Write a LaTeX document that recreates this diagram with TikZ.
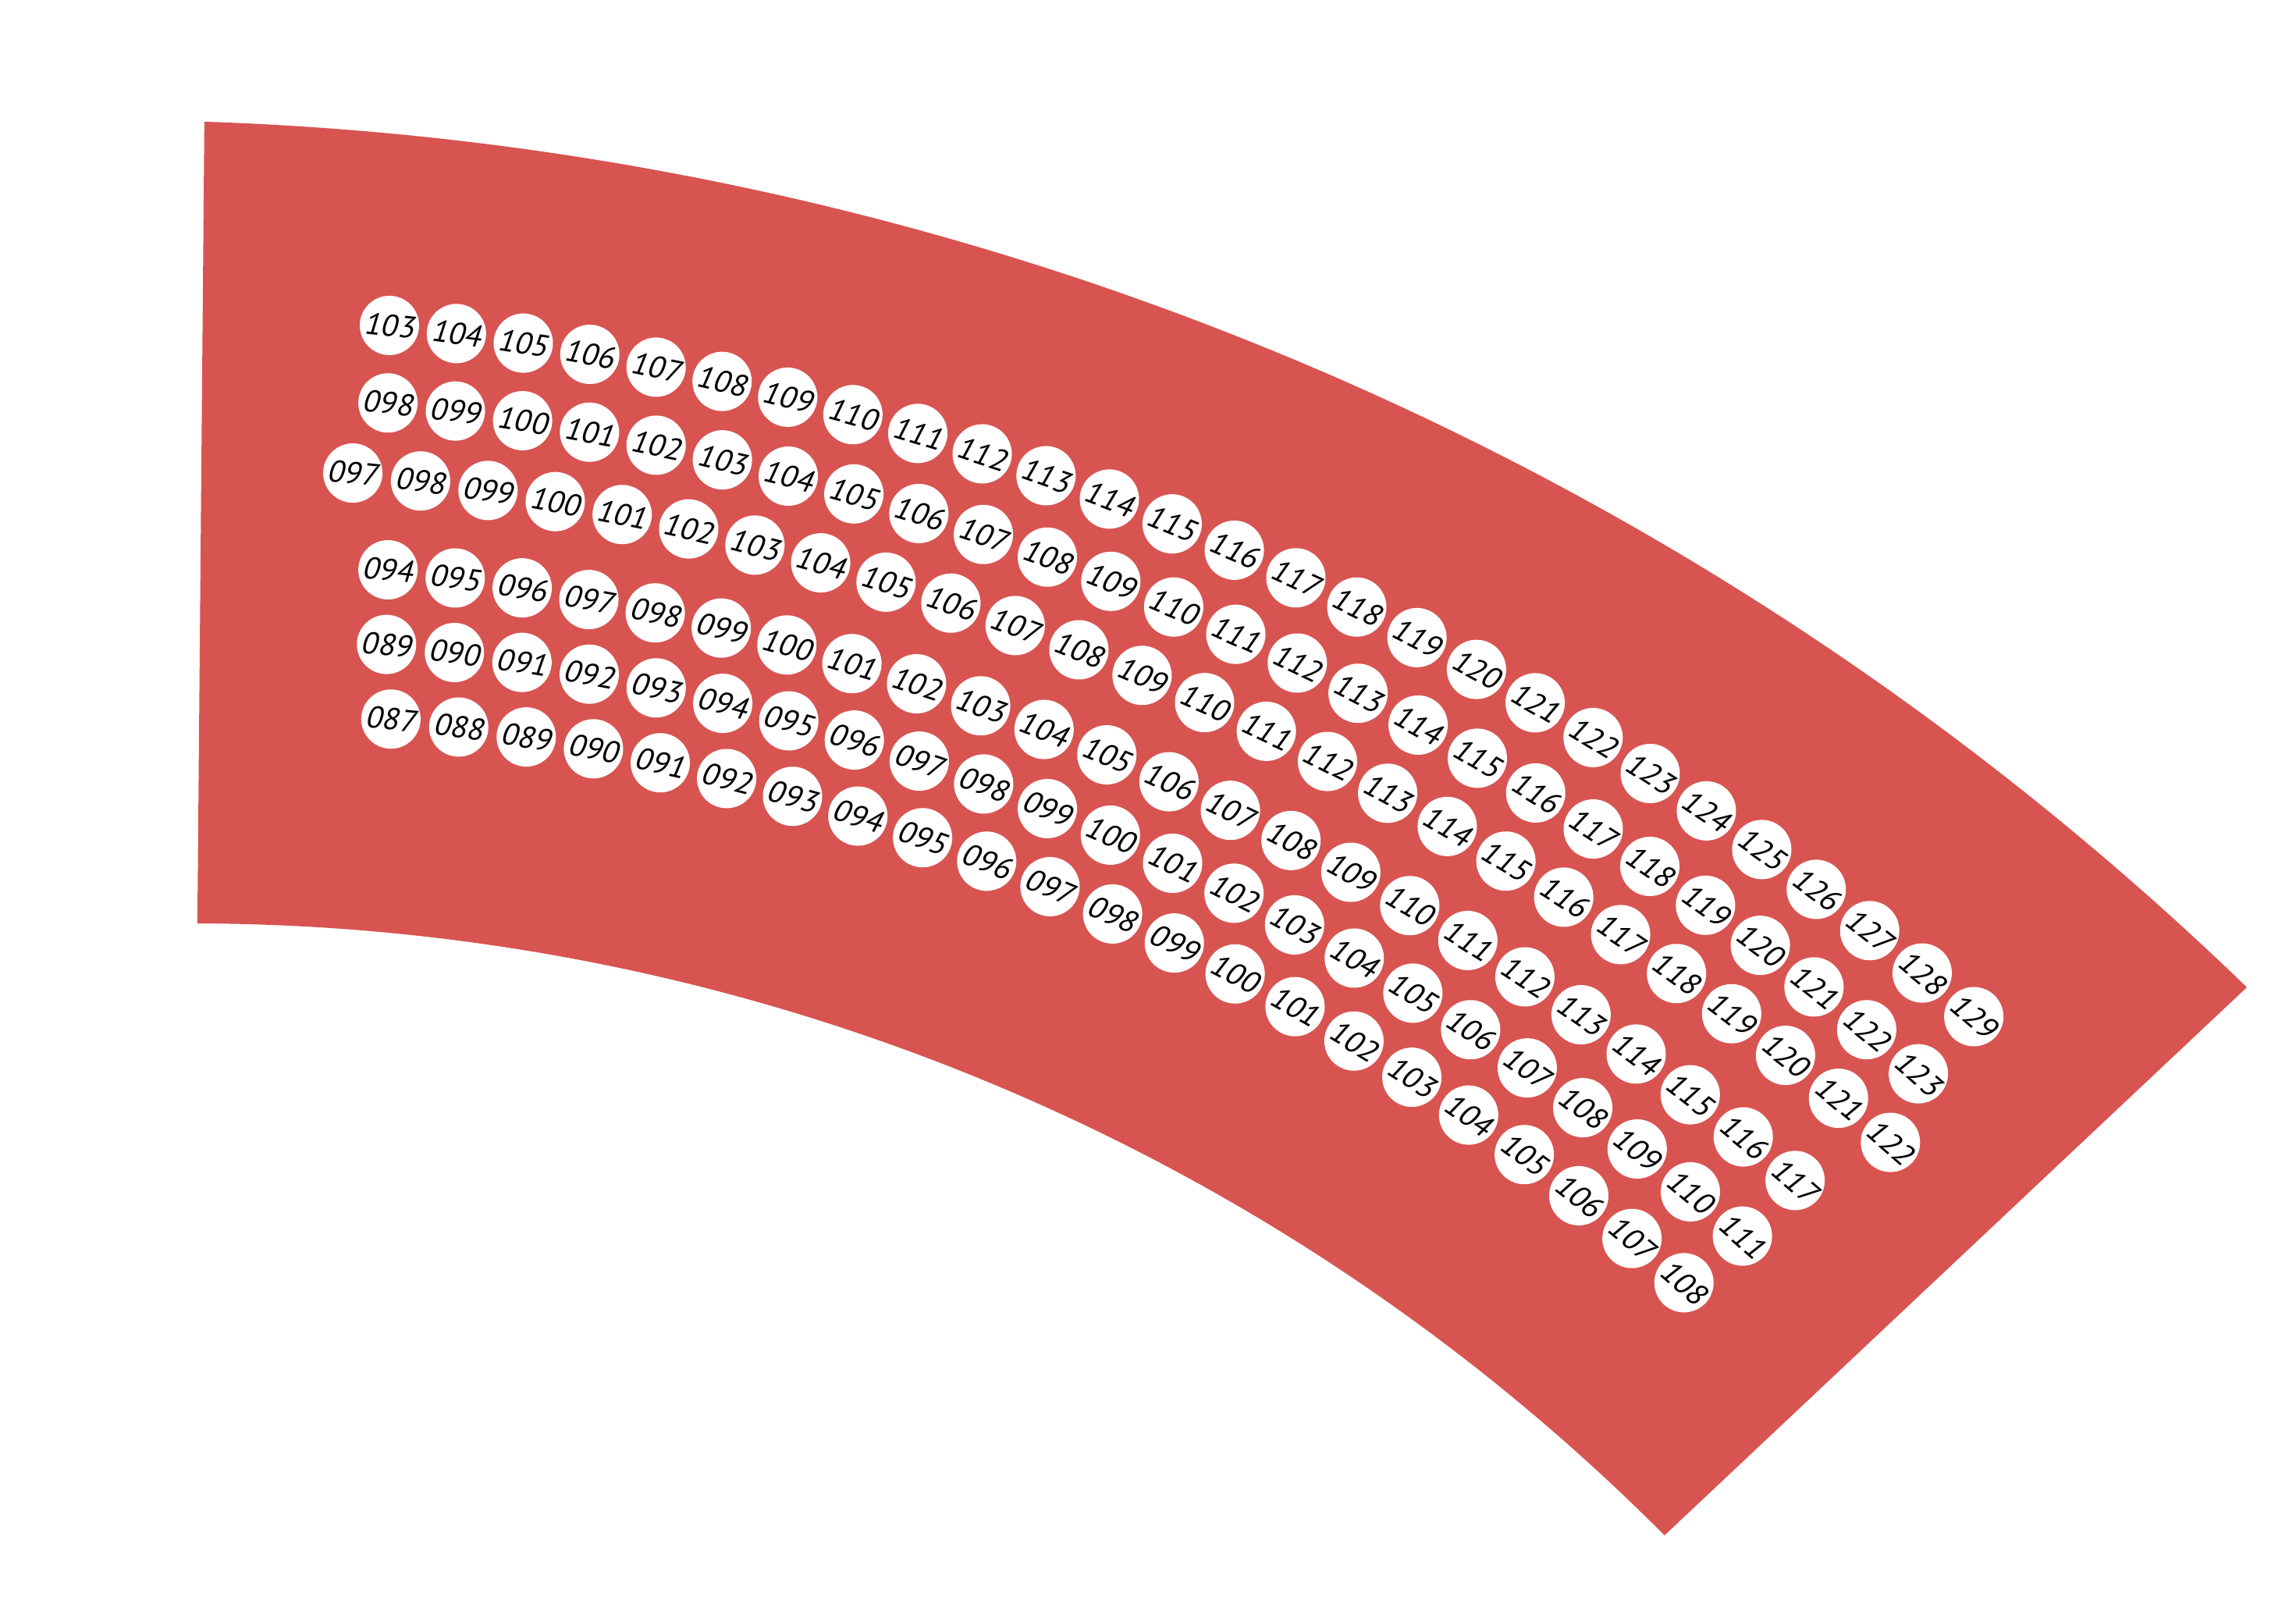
\documentclass[tikz,border=0pt]{standalone}
\usepackage{fontspec}
\newfontfamily\seatfont[FakeSlant=0.18]{PT Sans}
\definecolor{bandred}{RGB}{216,84,81}
\tikzset{
  seat/.style={circle, fill=white, minimum size=40.5pt, inner sep=0pt, text=black,
    font=\seatfont\fontsize{21}{21}\selectfont},
  band/.style={fill=bandred}
}
% #1 name prefix, #2 cx, #3 cy, #4 radius, #5 start angle, #6 angle step, #7 first number, #8 count-1
\newcommand\seatrow[8]{%
  \foreach \i in {0,...,#8}{%
    \pgfmathsetmacro\ang{#5-\i*#6}%
    \pgfmathsetmacro\px{#2+#4*cos(\ang)}%
    \pgfmathsetmacro\py{#3+#4*sin(\ang)}%
    \pgfmathsetmacro\rot{\ang-90}%
    \pgfmathtruncatemacro\num{#7+\i}%
    \node[seat, rotate=\rot] (#1\num) at (\px,\py) {\ifnum\num<100 0\fi\num};
  }%
}
\begin{document}
\begin{tikzpicture}[x=1pt,y=1pt]
\useasboundingbox (0,0) rectangle (1568,1095.25);
\coordinate (oc) at (70.1,-1093.25);
\coordinate (ic) at (131.0,-954.75);
\fill[band] ([shift={(88.109:2106.6)}]oc) arc[start angle=88.109, end angle=45.962, radius=2106.6]
  -- ([shift={(44.883:1419.5)}]ic) arc[start angle=44.883, end angle=89.847, radius=1419.5] -- cycle;
\seatrow{A}{51.7}{-1094.25}{1979}{83.784}{1.3348}{103}{26}
\seatrow{B}{61.6}{-1065.05}{1896.2}{83.842}{1.4009}{98}{25}
\seatrow{C}{45.1}{-1112.55}{1895.0}{84.066}{1.4070}{97}{25}
\seatrow{D}{76.4}{-1044.25}{1760.6}{83.851}{1.5050}{94}{23}
\seatrow{E}{91.8}{-1002.75}{1666.9}{84.070}{1.6036}{89}{22}
\seatrow{F}{106.6}{-969.15}{1581.6}{84.179}{1.6885}{87}{21}
\end{tikzpicture}
\end{document}
